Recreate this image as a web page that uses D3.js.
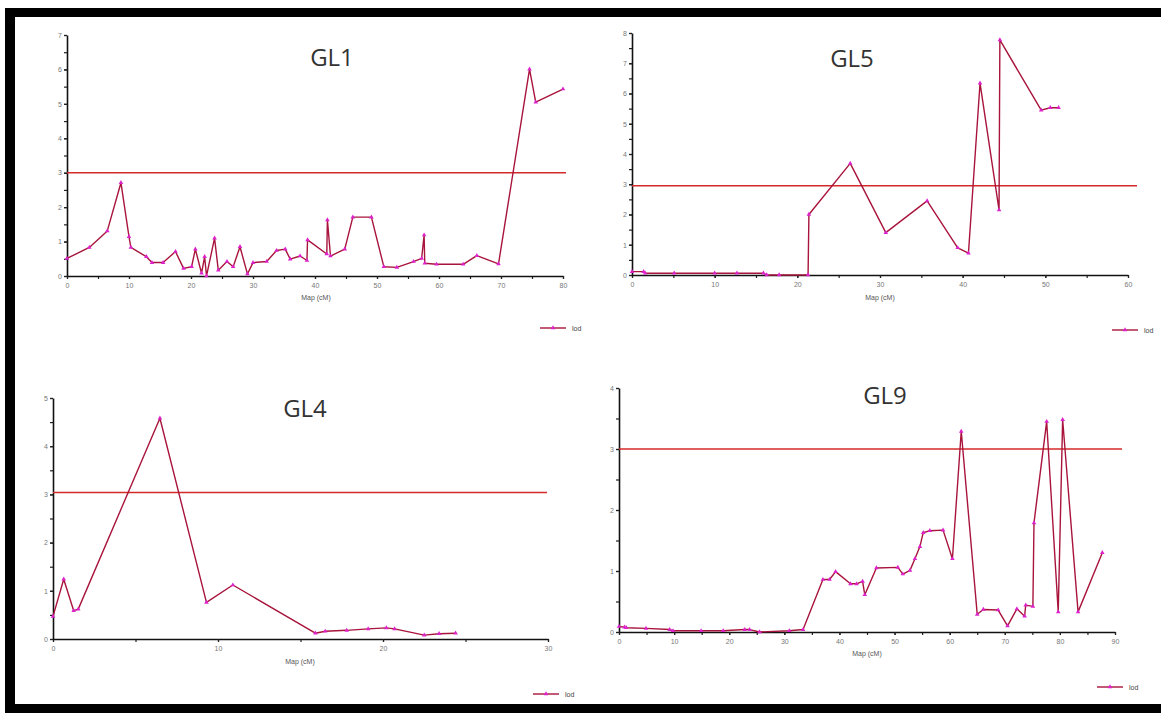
<!DOCTYPE html>
<html>
<head>
<meta charset="utf-8">
<script src="https://cdn.jsdelivr.net/npm/d3@7"></script>
<style>
  body { margin: 0; background: #fff; }
  svg { display: block; font-family: 'Open Sans', sans-serif; }
</style>
</head>
<body>
<div id="chart-area"></div>
<script>
'use strict';

// GL1
let gl1Pos = [0, 3.6, 6.5, 8.7, 10.0, 10.3, 12.8, 13.7, 15.5, 17.5, 18.8, 20.1, 20.7, 21.7, 22.2, 22.5,
    23.8, 24.4, 25.8, 26.8, 27.9, 29.1, 30.0, 32.2, 33.8, 35.2, 36.0, 37.6, 38.7, 38.8, 41.9, 42.0,
    42.5, 44.8, 46.1, 49.1, 51.1, 53.2, 55.9, 57.2, 57.6, 57.7, 59.6, 63.9, 66.1, 69.6, 74.6, 75.6, 80.0];
let gl1Lod = [0.51, 0.83, 1.31, 2.71, 1.14, 0.83, 0.56, 0.39, 0.39, 0.71, 0.22, 0.27, 0.78, 0.08, 0.56, 0.0,
    1.10, 0.17, 0.42, 0.27, 0.85, 0.06, 0.39, 0.42, 0.74, 0.78, 0.49, 0.58, 0.45, 1.05, 0.64, 1.63,
    0.58, 0.78, 1.71, 1.71, 0.27, 0.25, 0.42, 0.51, 1.19, 0.37, 0.34, 0.34, 0.59, 0.35, 6.01, 5.05, 5.43];

// GL5
let gl5Pos = [0, 1.4, 1.6, 5.1, 10.0, 12.7, 15.9, 16.3, 17.8, 21.3, 21.4, 26.4, 30.7, 35.7, 39.4, 40.7,
    42.1, 44.4, 44.5, 49.5, 50.6, 51.6];
let gl5Lod = [0.11, 0.11, 0.06, 0.06, 0.06, 0.06, 0.06, 0.0, 0.0, 0.0, 2.0, 3.69, 1.40, 2.45, 0.90, 0.72,
    6.34, 2.15, 7.77, 5.45, 5.53, 5.53];

// GL4
let gl4Pos = [0, 0.65, 1.25, 1.53, 6.48, 9.3, 10.9, 15.9, 16.5, 17.8, 19.1, 20.2, 20.7, 22.5, 23.4, 24.4];
let gl4Lod = [0.47, 1.24, 0.59, 0.62, 4.58, 0.76, 1.12, 0.12, 0.16, 0.18, 0.21, 0.23, 0.21, 0.08, 0.11, 0.12];

// GL9
let gl9Pos = [0, 1.0, 1.3, 4.9, 9.2, 9.8, 14.9, 18.9, 22.8, 23.7, 25.5, 30.9, 33.4, 37.0, 38.2, 39.3,
    42.0, 43.1, 44.2, 44.6, 46.7, 50.6, 51.5, 52.8, 53.7, 54.6, 55.2, 56.4, 58.8, 60.5, 62.1, 65.0,
    66.1, 68.8, 70.5, 72.2, 73.6, 73.8, 75.1, 75.3, 77.6, 79.7, 80.5, 83.3, 87.7];
let gl9Lod = [0.09, 0.08, 0.07, 0.06, 0.04, 0.02, 0.02, 0.02, 0.04, 0.04, 0.0, 0.02, 0.04, 0.86, 0.86, 0.99,
    0.79, 0.79, 0.83, 0.61, 1.05, 1.06, 0.95, 1.01, 1.2, 1.4, 1.63, 1.66, 1.67, 1.2, 3.29, 0.29,
    0.37, 0.36, 0.1, 0.38, 0.26, 0.44, 0.42, 1.79, 3.45, 0.33, 3.48, 0.33, 1.3];

let titles = ['GL1', 'GL5', 'GL4', 'GL9'];
let thresholds = [3.0, 2.95, 3.04, 3.0];
let xMaxes = [80, 60, 30, 90];
let yMaxes = [7, 8, 5, 4];
let xLabel = 'Map (cM)';
let legendLabel = 'lod';

// where each panel sits on the page
let layout = [
    {x0: 67, x1: 563, y0: 276, y1: 35, lineEnd: 566, tx: 332, ty: 66, lx: 316, ly: 300, gx: 540, gy: 328},
    {x0: 632, x1: 1128, y0: 275, y1: 33, lineEnd: 1137, tx: 852, ty: 67, lx: 880, ly: 300, gx: 1112, gy: 330},
    {x0: 53, x1: 548, y0: 639, y1: 398, lineEnd: 547, tx: 305, ty: 417, lx: 300, ly: 664, gx: 533, gy: 694},
    {x0: 619, x1: 1115, y0: 632, y1: 388, lineEnd: 1122, tx: 885, ty: 404, lx: 867, ly: 656, gx: 1097, gy: 687},
];

let series = [
    [gl1Pos, gl1Lod],
    [gl5Pos, gl5Lod],
    [gl4Pos, gl4Lod],
    [gl9Pos, gl9Lod],
];

let W = 1161, H = 713;
let svg = d3.select('#chart-area').append('svg')
    .attr('width', W)
    .attr('height', H);

svg.append('rect').attr('width', W).attr('height', H).attr('fill', '#fff');

let lineColour = '#a8143c';
let markColour = '#dd22cc';
let thrColour = '#d42a2a';

titles.forEach((t, i) => {
    let L = layout[i];
    let pos = series[i][0], lod = series[i][1];

    let x = d3.scaleLinear().domain([0, xMaxes[i]]).range([L.x0, L.x1]);
    let y = d3.scaleLinear().domain([0, yMaxes[i]]).range([L.y0, L.y1]);

    let g = svg.append('g');

    // minor ticks
    let xAxisMinor = d3.axisBottom(x)
        .tickValues(d3.range(0, xMaxes[i] + 0.1, 5))
        .tickSize(3)
        .tickFormat('');
    g.append('g')
        .attr('transform', 'translate(0,' + L.y0 + ')')
        .call(xAxisMinor)
        .call(a => a.select('.domain').remove());

    let yAxisMinor = d3.axisLeft(y)
        .tickValues(d3.range(0, yMaxes[i] + 0.01, 0.5))
        .tickSize(3)
        .tickFormat('');
    g.append('g')
        .attr('transform', 'translate(' + L.x0 + ',0)')
        .call(yAxisMinor)
        .call(a => a.select('.domain').remove());

    let xAxis = d3.axisBottom(x)
        .tickValues(d3.range(0, xMaxes[i] + 0.1, 10))
        .tickFormat(d3.format('d'))
        .tickSize(3)
        .tickSizeOuter(0)
        .tickPadding(4);
    g.append('g')
        .attr('class', 'x_axis')
        .attr('transform', 'translate(0,' + L.y0 + ')')
        .call(xAxis);

    let yAxis = d3.axisLeft(y)
        .tickValues(d3.range(0, yMaxes[i] + 0.01, 1))
        .tickFormat(d3.format('d'))
        .tickSize(3)
        .tickSizeOuter(0)
        .tickPadding(2);
    g.append('g')
        .attr('class', 'y_axis')
        .attr('transform', 'translate(' + L.x0 + ',0)')
        .call(yAxis);

    g.selectAll('.domain').attr('stroke', '#111').attr('stroke-width', 1.6);
    g.selectAll('.tick line').attr('stroke', '#222').attr('stroke-width', 1.2);
    g.selectAll('.tick text')
        .attr('font-size', '7px')
        .attr('fill', '#777')
        .attr('font-family', 'Arial, sans-serif');

    // threshold
    g.append('line')
        .attr('x1', L.x0)
        .attr('x2', L.lineEnd)
        .attr('y1', y(thresholds[i]))
        .attr('y2', y(thresholds[i]))
        .attr('stroke', thrColour)
        .attr('stroke-width', 1.5);

    let pts = pos.map((p, k) => [p, lod[k]]);
    let line = d3.line()
        .x(d => x(d[0]))
        .y(d => y(d[1]));

    g.append('path')
        .datum(pts)
        .attr('d', line)
        .attr('fill', 'none')
        .attr('stroke', lineColour)
        .attr('stroke-width', 1.4)
        .attr('stroke-linejoin', 'round');

    let sym = d3.symbol().type(d3.symbolTriangle).size(9);
    g.selectAll('.mark')
        .data(pts)
        .enter()
        .append('path')
            .attr('class', 'mark')
            .attr('d', sym)
            .attr('transform', d => 'translate(' + x(d[0]) + ',' + y(d[1]) + ')')
            .attr('fill', markColour);

    // title
    g.append('text')
        .attr('x', L.tx)
        .attr('y', L.ty)
        .attr('text-anchor', 'middle')
        .attr('font-size', '24px')
        .attr('fill', '#333')
        .text(t);

    g.append('text')
        .attr('x', L.lx)
        .attr('y', L.ly)
        .attr('text-anchor', 'middle')
        .attr('font-size', '7px')
        .attr('font-family', 'Arial, sans-serif')
        .attr('fill', '#555')
        .text(xLabel);

    // legend
    g.append('line')
        .attr('x1', L.gx)
        .attr('x2', L.gx + 26)
        .attr('y1', L.gy)
        .attr('y2', L.gy)
        .attr('stroke', lineColour)
        .attr('stroke-width', 1.4);
    g.append('path')
        .attr('d', sym)
        .attr('transform', 'translate(' + (L.gx + 13) + ',' + L.gy + ')')
        .attr('fill', markColour);
    g.append('text')
        .attr('x', L.gx + 32)
        .attr('y', L.gy + 2.5)
        .attr('font-size', '7px')
        .attr('font-family', 'Arial, sans-serif')
        .attr('fill', '#444')
        .text(legendLabel);
});

// black frame
svg.append('rect').attr('x', 5).attr('y', 8).attr('width', 10).attr('height', H - 8).attr('fill', '#000');
svg.append('rect').attr('x', 5).attr('y', 8).attr('width', W - 5).attr('height', 9).attr('fill', '#000');
svg.append('rect').attr('x', 5).attr('y', 704).attr('width', W - 5).attr('height', 9).attr('fill', '#000');
</script>
</body>
</html>
